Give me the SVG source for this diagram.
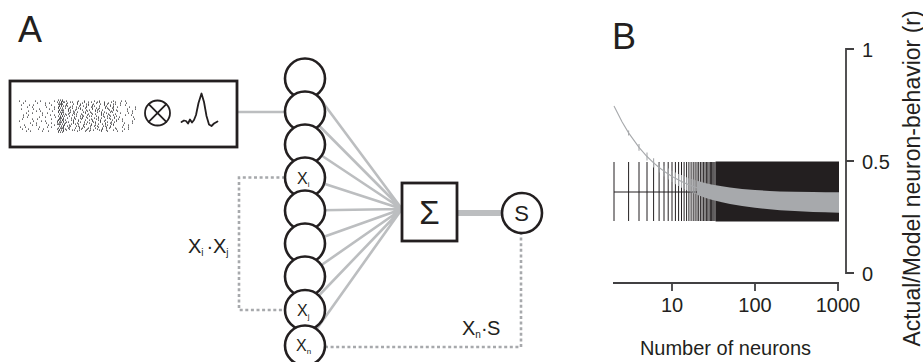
<svg xmlns="http://www.w3.org/2000/svg" width="923" height="362" viewBox="0 0 923 362">
<style>
text{font-family:"Liberation Sans",Arial,Helvetica,sans-serif;fill:#231f20}
.ink{fill:none;stroke:#231f20;stroke-width:1.8;stroke-linejoin:round;stroke-linecap:round}
.unit{fill:#fff;stroke:#231f20;stroke-width:2.6}
.box{fill:#fff;stroke:#231f20;stroke-width:2.8}
.wire{fill:none;stroke:#bcbec0;stroke-width:2.6}
.dotted{fill:none;stroke:#a7a9ac;stroke-width:2.6;stroke-dasharray:3 2.6}
.xl{font-size:16px}
.xs{font-size:8px}
.eq{font-size:20px}
.eqs{font-size:10px}
.spk{fill:none;stroke:#3a3a3c;stroke-width:1.25}
.s1{stroke-dasharray:1 5 1 9 1 4 1 13 1 7 1 3 1 11}
.s2{stroke-dasharray:1 3 1 2 1 5 1 1 1 4 1 6}
.s3{stroke-dasharray:1 1}
.axis{fill:none;stroke:#414042;stroke-width:1.8}
.tick{font-size:20px}
.bar{fill:none;stroke:#231f20;stroke-width:1}
.gray{fill:none;stroke:#a7a9ac;stroke-width:1.1}
</style>
<rect width="923" height="362" fill="#fff"/>

<!-- panel letters -->
<text x="18" y="42" font-size="36">A</text>
<text x="612" y="49" font-size="36">B</text>

<!-- connectors -->
<g id="connectors">
  <path class="wire" d="M237 112H305"/>
  <path class="wire" d="M305 78.5L402 209M305 111.5L402 209M305 144.5L402 209M305 177.5L402 209M305 210.5L402 209M305 243.5L402 209M305 276.5L402 209M305 310L402 209M305 345.5L402 209"/>
  <path class="wire" d="M457 213H502" style="stroke-width:6"/>
  <path class="dotted" d="M285 177.5H239V310H285"/>
  <path class="dotted" d="M325 347H521V233"/>
  <text class="eq" x="188" y="253">X<tspan class="eqs" dy="3">i</tspan><tspan x="206.5" dy="-3">·</tspan><tspan x="213">X</tspan><tspan class="eqs" dy="3">j</tspan></text>
  <text class="eq" x="462" y="335">X<tspan class="eqs" dy="3">n</tspan><tspan x="481" dy="-3">·</tspan><tspan x="487">S</tspan></text>
</g>

<!-- stimulus: spike raster convolved with a kernel -->
<g id="input">
  <rect class="box" x="10" y="81" width="227" height="66"/>
  <g class="spk s1">
    <path d="M19 101H136" style="stroke-dashoffset:0"/>
    <path d="M19 103H136" style="stroke-dashoffset:17"/>
    <path d="M19 105H136" style="stroke-dashoffset:33"/>
    <path d="M19 107H136" style="stroke-dashoffset:8"/>
    <path d="M19 109H136" style="stroke-dashoffset:45"/>
    <path d="M19 111H136" style="stroke-dashoffset:26"/>
    <path d="M19 113H136" style="stroke-dashoffset:52"/>
    <path d="M19 115H136" style="stroke-dashoffset:12"/>
    <path d="M19 117H136" style="stroke-dashoffset:39"/>
    <path d="M19 119H136" style="stroke-dashoffset:3"/>
    <path d="M19 121H136" style="stroke-dashoffset:21"/>
    <path d="M19 123H136" style="stroke-dashoffset:48"/>
    <path d="M19 125H136" style="stroke-dashoffset:30"/>
    <path d="M19 127H136" style="stroke-dashoffset:15"/>
    <path d="M19 129H136" style="stroke-dashoffset:56"/>
    <path d="M19 131H136" style="stroke-dashoffset:36"/>
  </g>
  <g class="spk s2">
    <path d="M57 102H117" style="stroke-dashoffset:0"/>
    <path d="M57 104H117" style="stroke-dashoffset:11"/>
    <path d="M57 106H117" style="stroke-dashoffset:5"/>
    <path d="M57 108H117" style="stroke-dashoffset:19"/>
    <path d="M57 110H117" style="stroke-dashoffset:2"/>
    <path d="M57 112H117" style="stroke-dashoffset:14"/>
    <path d="M57 114H117" style="stroke-dashoffset:23"/>
    <path d="M57 116H117" style="stroke-dashoffset:8"/>
    <path d="M57 118H117" style="stroke-dashoffset:17"/>
    <path d="M57 120H117" style="stroke-dashoffset:26"/>
    <path d="M57 122H117" style="stroke-dashoffset:4"/>
    <path d="M57 124H117" style="stroke-dashoffset:13"/>
    <path d="M57 126H117" style="stroke-dashoffset:21"/>
    <path d="M57 128H117" style="stroke-dashoffset:9"/>
    <path d="M57 130H117" style="stroke-dashoffset:25"/>
  </g>
  <path class="spk s3" d="M58 100H64M59 102H64M58 104H64M59 106H64M58 108H64M59 110H64M58 112H64M59 114H64M58 116H64M59 118H64M58 120H64M59 122H64M58 124H64M59 126H64M58 128H64M59 130H64M58 132H64"/>
  <circle class="ink" cx="157.5" cy="113" r="12.5"/>
  <path class="ink" d="M148.7 104.2L166.3 121.8M166.3 104.2L148.7 121.8"/>
  <path class="ink" d="M181.5 122L184 120.5L186 121L188 123.5L190 119.5L192 122.5L194 120L196 115L198.5 103L201.5 93.5L204 102L206.5 116L209 124.5L211.5 126L214 123.5L217.5 121.5"/>
</g>

<!-- input units -->
<g id="unit-1"><circle class="unit" cx="305" cy="78.5" r="20"/></g>
<g id="unit-2"><circle class="unit" cx="305" cy="111.5" r="20"/></g>
<g id="unit-3"><circle class="unit" cx="305" cy="144.5" r="20"/></g>
<g id="unit-xi"><circle class="unit" cx="305" cy="177.5" r="20"/>
  <text class="xl" x="297" y="183.5">X<tspan class="xs" dy="3">i</tspan></text></g>
<g id="unit-5"><circle class="unit" cx="305" cy="210.5" r="20"/></g>
<g id="unit-6"><circle class="unit" cx="305" cy="243.5" r="20"/></g>
<g id="unit-7"><circle class="unit" cx="305" cy="276.5" r="20"/></g>
<g id="unit-xj"><circle class="unit" cx="305" cy="310" r="20"/>
  <text class="xl" x="297" y="315.8">X<tspan class="xs" dy="3">j</tspan></text></g>
<g id="unit-xn"><circle class="unit" cx="305" cy="345.5" r="20"/>
  <text class="xl" x="296" y="351.3">X<tspan class="xs" dy="3">n</tspan></text></g>

<!-- summation and output -->
<g id="sum">
  <rect class="box" x="402" y="183" width="55" height="58"/>
  <text x="429.5" y="224" font-size="33" text-anchor="middle">Σ</text>
</g>
<g id="output">
  <circle class="unit" cx="522" cy="213" r="20"/>
  <text x="521.5" y="221" font-size="22" text-anchor="middle">S</text>
</g>

<!-- panel B: correlation vs. number of neurons -->
<g id="plot">
  <path class="bar" d="M614 192H839"/>
  <path class="bar" d="M614 162V221M628.6 162V221M639 162V221M647 162V221M653.6 162V221M659.1 162V221M664 162V221M668.2 162V221M672 162V221M675.4 162V221M678.6 162V221M681.5 162V221M684.1 162V221M686.6 162V221M688.9 162V221M691.1 162V221M693.2 162V221M695.1 162V221M697 162V221M698.7 162V221M700.4 162V221M702 162V221M703.6 162V221M705 162V221M706.4 162V221M707.8 162V221M709.1 162V221M710.4 162V221M711.6 162V221M712.8 162V221M713.9 162V221M715 162V221"/>
  <rect x="715.6" y="161.5" width="123.4" height="60" fill="#231f20"/>
  <path class="gray" d="M614 106L622 121.8L628.6 132.9L639 147.3L647 156.5L653.6 162.8L659.1 167.5L664 171.1L668.2 174L672 176.4L678.6 180L684.1 182.7L688.9 184.8L693.2 186.4L697 187.8L705 190.3"/>
  <path class="gray" d="M628.6 130.4V135.4M639 143.9V150.7M647 152.4V160.6M653.6 158.2V167.4M659.1 162.6V172.4M664 165.8V176.4M668.2 168.5V179.5M672 170.7V182.1M675.4 172.4V184.2M678.6 173.9V186.1M681.5 175.1V187.7M684.1 176.3V189.1M686.6 177.3V190.3M688.9 178.2V191.4M691.1 178.9V192.4M693.2 179.6V193.2M695.1 180.2V194"/>
  <polygon fill="#a7a9ac" points="697,180.8 705,182.9 711.6,184.5 722,186.3 730,187.6 742.1,188.9 755,190 769.6,190.9 780,191.4 794.6,191.75 813,192.1 825.1,192.3 839,192.3 839,212.7 825.1,212.3 813,211.9 794.6,211.05 780,210.2 769.6,209.3 755,207.8 742.1,206.1 730,204 722,202.3 711.6,199.7 705,197.7 697,194.8"/>
  <path class="axis" d="M613 283H839M672 283V291M755 283V291M838 283V291"/>
  <path class="axis" d="M854 49H846V273H854M846 161H854"/>
  <text class="tick" x="672" y="312" text-anchor="middle">10</text>
  <text class="tick" x="755" y="312" text-anchor="middle">100</text>
  <text class="tick" x="838" y="312" text-anchor="middle">1000</text>
  <text class="tick" x="725.5" y="355" text-anchor="middle">Number of neurons</text>
  <text class="tick" x="862" y="56.5">1</text>
  <text class="tick" x="862" y="168.5">0.5</text>
  <text class="tick" x="862" y="280.5">0</text>
  <text font-size="23" text-anchor="middle" transform="translate(919.5 178.5) rotate(-90)">Actual/Model neuron-behavior (r)</text>
</g>
</svg>
